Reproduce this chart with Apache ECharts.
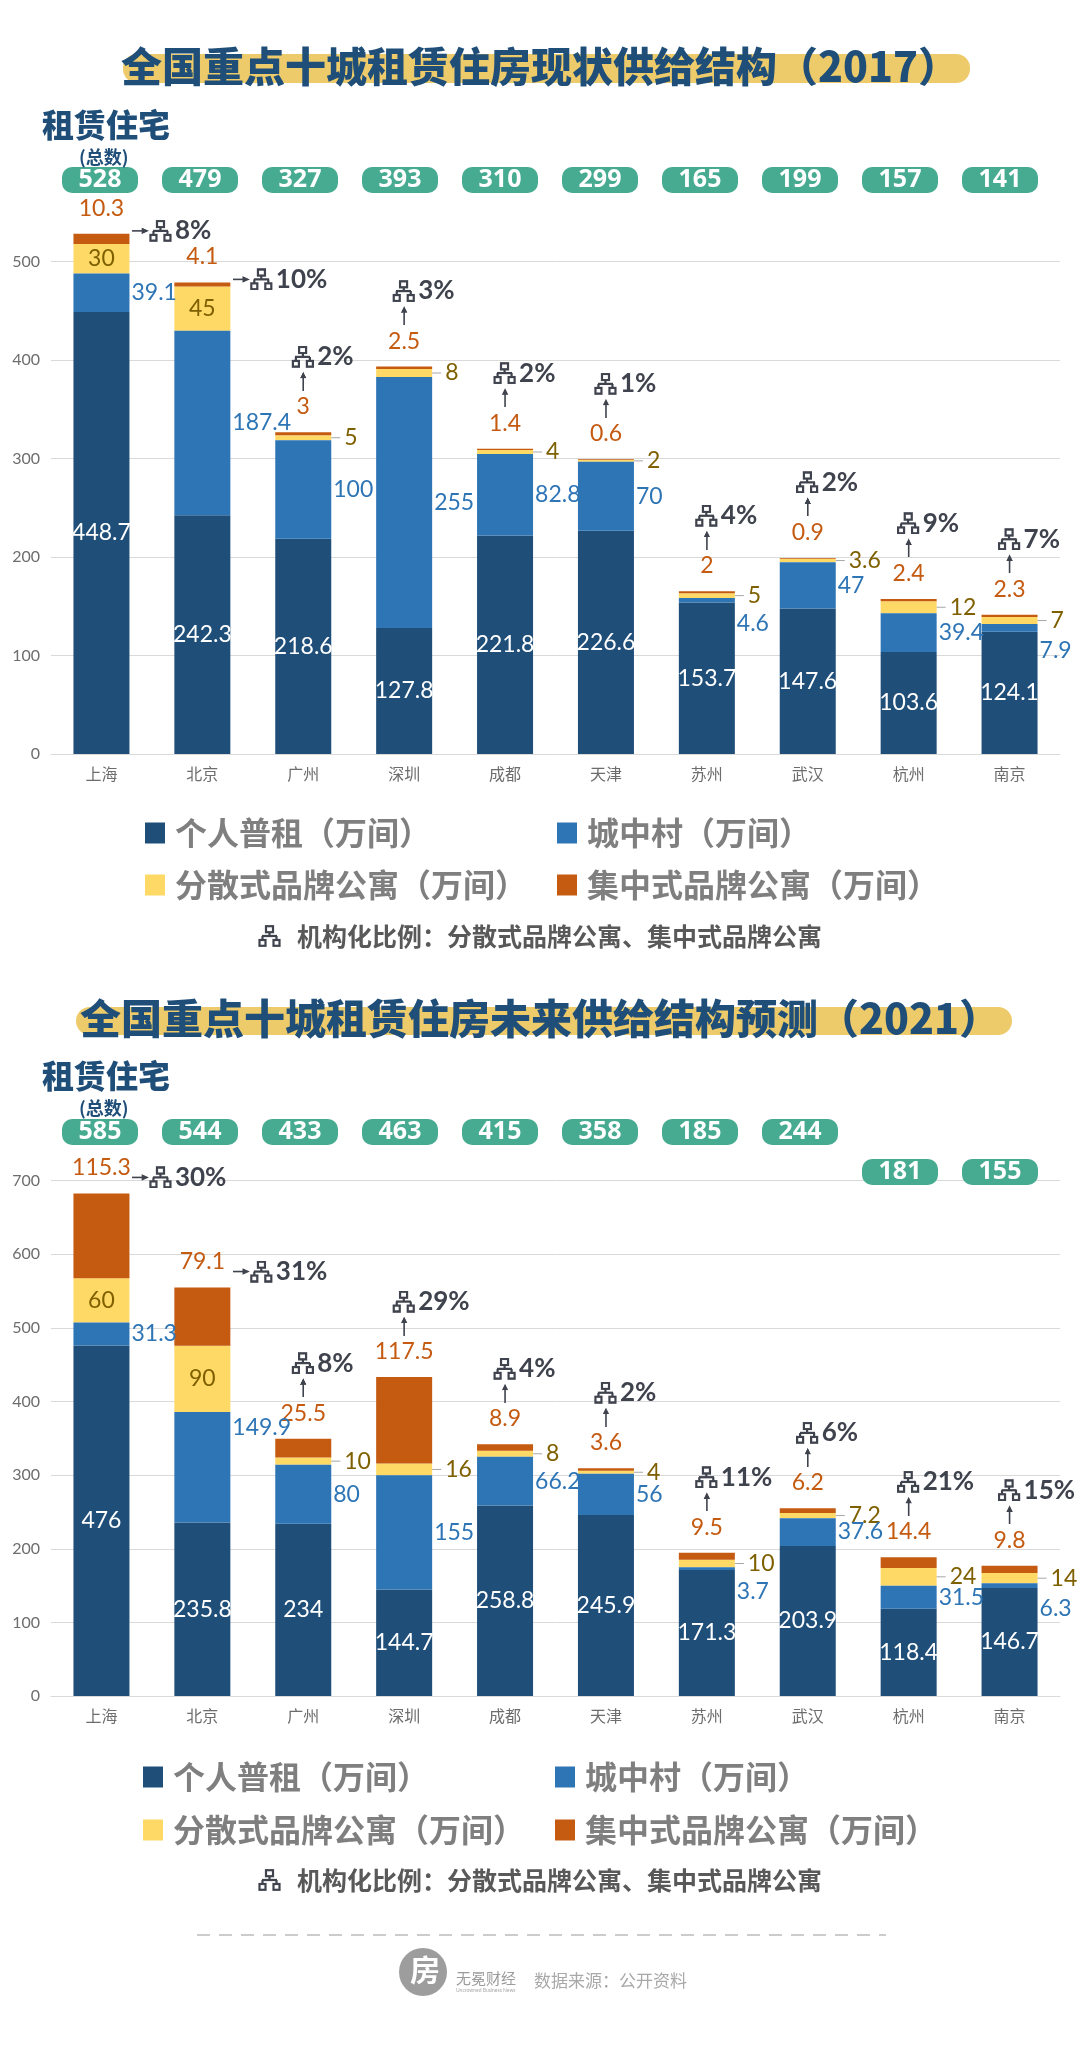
<!DOCTYPE html>
<html>
<head>
<meta charset="utf-8">
<title>全国重点十城租赁住房供给结构</title>
<script src="https://cdn.jsdelivr.net/npm/echarts@6/dist/echarts.min.js"></script>
<style>
    html, body { margin: 0; padding: 0; background: #fff; }
    #main { width: 1080px; height: 2056px; }
</style>
</head>
<body>
<div id="main"></div>
<script>
(function () {
    "use strict";

    // ---- datos ----
    var cities = ['上海', '北京', '广州', '深圳', '成都', '天津', '苏州', '武汉', '杭州', '南京'];
    var seriesNames = ['个人普租（万间）', '城中村（万间）', '分散式品牌公寓（万间）', '集中式品牌公寓（万间）'];

    // 2017 现状
    var geren2017 = [448.7, 242.3, 218.6, 127.8, 221.8, 226.6, 153.7, 147.6, 103.6, 124.1];
    var cun2017 = [39.1, 187.4, 100, 255, 82.8, 70, 4.6, 47, 39.4, 7.9];
    var fen2017 = [30, 45, 5, 8, 4, 2, 5, 3.6, 12, 7];
    var ji2017 = [10.3, 4.1, 3, 2.5, 1.4, 0.6, 2, 0.9, 2.4, 2.3];
    var total2017 = [528, 479, 327, 393, 310, 299, 165, 199, 157, 141];
    var ratio2017 = ['8%', '10%', '2%', '3%', '2%', '1%', '4%', '2%', '9%', '7%'];

    // 2021 预测
    var geren2021 = [476, 235.8, 234, 144.7, 258.8, 245.9, 171.3, 203.9, 118.4, 146.7];
    var cun2021 = [31.3, 149.9, 80, 155, 66.2, 56, 3.7, 37.6, 31.5, 6.3];
    var fen2021 = [60, 90, 10, 16, 8, 4, 10, 7.2, 24, 14];
    var ji2021 = [115.3, 79.1, 25.5, 117.5, 8.9, 3.6, 9.5, 6.2, 14.4, 9.8];
    var total2021 = [585, 544, 433, 463, 415, 358, 185, 244, 181, 155];
    var ratio2021 = ['30%', '31%', '8%', '29%', '4%', '2%', '11%', '6%', '21%', '15%'];

    // ejes
    var yMax2017 = 600, yMax2021 = 800, yStep = 100;

    var sideRatioCities = ['上海', '北京'];     // ratio a la derecha de la barra
    var loweredBadges2021 = ['杭州', '南京'];   // etiquetas de total desplazadas
    var raisedCunLabels2021 = ['北京'];         // etiqueta de 城中村 subida

    // ---- estilos ----
    var CJK = '"Noto Sans CJK SC", sans-serif';
    var NUM = 'Lato, "Noto Sans", sans-serif';
    var colors = ['#1f4e79', '#2e75b6', '#ffd966', '#c55a11'];
    var NAVY = '#1f4e79';
    var DARK = '#3f434d';

    function makeCanvas(w, h, draw) {
        var c = document.createElement('canvas');
        c.width = w * 2; c.height = h * 2;
        var g = c.getContext('2d');
        g.scale(2, 2);
        draw(g);
        return c;
    }
    // icono organigrama
    var orgIcon = makeCanvas(23, 22, function (g) {
        g.strokeStyle = DARK; g.lineWidth = 2.2;
        g.strokeRect(8, 1.2, 7, 6);
        g.beginPath();
        g.moveTo(11.5, 7); g.lineTo(11.5, 11);
        g.moveTo(4, 11); g.lineTo(19, 11);
        g.moveTo(4.5, 11); g.lineTo(4.5, 15);
        g.moveTo(18.5, 11); g.lineTo(18.5, 15);
        g.stroke();
        g.strokeRect(1.5, 15, 6, 5.8);
        g.strokeRect(15.5, 15, 6, 5.8);
    });
    var upArrow = makeCanvas(8, 19, function (g) {
        g.strokeStyle = DARK; g.fillStyle = DARK; g.lineWidth = 1.6;
        g.beginPath(); g.moveTo(4, 19); g.lineTo(4, 5); g.stroke();
        g.beginPath(); g.moveTo(0.8, 6.5); g.lineTo(4, 0); g.lineTo(7.2, 6.5); g.closePath(); g.fill();
    });
    var rightArrow = makeCanvas(15, 8, function (g) {
        g.strokeStyle = DARK; g.fillStyle = DARK; g.lineWidth = 1.6;
        g.beginPath(); g.moveTo(0, 4); g.lineTo(10, 4); g.stroke();
        g.beginPath(); g.moveTo(8.5, 0.8); g.lineTo(15, 4); g.lineTo(8.5, 7.2); g.closePath(); g.fill();
    });

    var numLabel = { fontFamily: NUM, fontSize: 23 };
    var hidden = { color: 'rgba(0,0,0,0)', opacity: 1 };

    function buildSeries(k, d) {
        var gMain = k * 2, gBadge = k * 2 + 1;
        var stack = 'total' + k;
        var tops = d.geren.map(function (v, i) { return v + d.cun[i] + d.fen[i] + d.ji[i]; });
        var base = { type: 'bar', stack: stack, barWidth: 56, xAxisIndex: gMain, yAxisIndex: gMain };
        var list = [];

        list.push(Object.assign({}, base, {
            name: seriesNames[0], itemStyle: { color: colors[0] },
            label: Object.assign({ show: true, position: 'inside', color: '#fff' }, numLabel),
            data: d.geren
        }));
        list.push(Object.assign({}, base, {
            name: seriesNames[1], itemStyle: { color: colors[1] }, z: 3,
            label: Object.assign({ show: true, position: 'right', distance: 2, color: '#2e75b6' }, numLabel),
            data: d.cun.map(function (v, i) {
                if (d.raised && d.raised.indexOf(cities[i]) >= 0) return { value: v, label: { offset: [0, -40] } };
                return v < 10 ? { value: v, label: { offset: [0, 23] } } : v;
            })
        }));
        list.push(Object.assign({}, base, {
            name: seriesNames[2], itemStyle: { color: colors[2] },
            label: {
                show: true, position: 'right', distance: 0,
                formatter: function (p) { return '{ln|}{v|' + p.value + '}'; },
                rich: {
                    ln: { width: 9, height: 1, backgroundColor: '#a6a6a6' },
                    v: Object.assign({ color: '#7f6000', padding: [0, 0, 0, 4] }, numLabel)
                }
            },
            data: d.fen.map(function (v) {
                return v >= 25 ? {
                    value: v,
                    label: Object.assign({ position: 'inside', color: '#7f6000', formatter: '{c}', rich: {} }, numLabel)
                } : v;
            })
        }));
        list.push(Object.assign({}, base, {
            name: seriesNames[3], itemStyle: { color: colors[3] },
            label: Object.assign({ show: true, position: 'top', distance: 14, color: '#c55a11' }, numLabel),
            data: d.ji
        }));

        // ratio de institucionalización
        var pctRich = {
            ic: { width: 23, height: 22, backgroundColor: { image: orgIcon } },
            ar: { width: 15, height: 8, backgroundColor: { image: rightArrow }, padding: [0, 2, 0, 0] },
            p: { fontFamily: NUM, fontSize: 26, fontWeight: 'bold', color: DARK, lineHeight: 26, padding: [0, 0, 0, 3] }
        };
        var sideLift = k === 0 ? -3 : -16;
        list.push({
            type: 'scatter', name: 'ratio' + k, xAxisIndex: gMain, yAxisIndex: gMain,
            symbolSize: 1, itemStyle: hidden, silent: true, z: 5,
            data: cities.map(function (c, i) {
                var side = sideRatioCities.indexOf(c) >= 0;
                return {
                    value: [i, tops[i]],
                    label: side ? {
                        show: true, position: 'right', distance: 30, offset: [0, sideLift],
                        formatter: '{ar|}{ic|}{p|' + d.ratio[i] + '}', rich: pctRich
                    } : {
                        show: true, position: 'top', distance: 62, align: 'left', offset: [-12, 0],
                        formatter: '{ic|}{p|' + d.ratio[i] + '}', rich: pctRich
                    }
                };
            })
        });
        list.push({
            type: 'scatter', name: 'arrow' + k, xAxisIndex: gMain, yAxisIndex: gMain,
            symbolSize: 1, itemStyle: hidden, silent: true, z: 5,
            data: cities.map(function (c, i) {
                return {
                    value: [i, tops[i]],
                    label: { show: sideRatioCities.indexOf(c) < 0 }
                };
            }),
            label: {
                position: 'top', distance: 41, formatter: '{a|}',
                rich: { a: { width: 8, height: 19, backgroundColor: { image: upArrow } } }
            }
        });

        // totales
        list.push({
            type: 'scatter', name: 'badge' + k, xAxisIndex: gBadge, yAxisIndex: gBadge,
            symbolSize: 1, itemStyle: hidden, silent: true,
            data: cities.map(function (c, i) {
                var item = { value: [i, 0.5] };
                if (d.lowered && d.lowered.indexOf(c) >= 0) item.label = { offset: [0, 40] };
                return item;
            }),
            label: {
                show: true, position: 'inside',
                formatter: function (p) { return String(d.total[p.dataIndex]); },
                width: 76, height: 26, lineHeight: 26, align: 'center', verticalAlign: 'middle',
                backgroundColor: '#47ab91', borderRadius: 10,
                color: '#fff', fontFamily: '"Open Sans", ' + NUM, fontSize: 25, fontWeight: 'bold'
            }
        });
        return list;
    }

    function mainX(grid) {
        return {
            type: 'category', gridIndex: grid, data: cities,
            axisLine: { lineStyle: { color: '#d9d9d9' } },
            axisTick: { show: false },
            axisLabel: { margin: 12, fontSize: 16, color: '#6d6d6d', fontFamily: CJK }
        };
    }
    function mainY(grid, max) {
        return {
            type: 'value', gridIndex: grid, min: 0, max: max, interval: yStep,
            axisLine: { show: false }, axisTick: { show: false },
            axisLabel: { margin: 11, fontSize: 16, color: '#6d6d6d', fontFamily: NUM, showMaxLabel: false },
            splitLine: { lineStyle: { color: '#d9d9d9' }, showMaxLine: false }
        };
    }
    function badgeX(grid) { return { type: 'category', gridIndex: grid, data: cities, show: false }; }
    function badgeY(grid) { return { type: 'value', gridIndex: grid, min: 0, max: 1, show: false }; }

    function legendAt(name, left, top) {
        return {
            data: [name], left: left, top: top, icon: 'rect', itemWidth: 20, itemHeight: 21,
            selectedMode: false,
            textStyle: { fontFamily: CJK, fontSize: 32, fontWeight: 'bold', color: '#7f7f7f', lineHeight: 32, padding: [0, 0, 0, 5] }
        };
    }

    var noteText = '{ic|}{t|机构化比例：分散式品牌公寓、集中式品牌公寓}';
    var noteStyle = {
        rich: {
            ic: { width: 23, height: 22, backgroundColor: { image: orgIcon } },
            t: { fontFamily: CJK, fontSize: 25, fontWeight: 'bold', color: '#595959', padding: [0, 0, 0, 16], lineHeight: 28 }
        }
    };
    function headTitles(title, yTitle, yHead, yNote) {
        return [
            { text: title, left: 'center', top: yTitle, textStyle: { fontFamily: CJK, fontSize: 41, fontWeight: 900, color: NAVY, lineHeight: 44 } },
            { text: '租赁住宅', left: 37, top: yHead, textStyle: { fontFamily: CJK, fontSize: 32, fontWeight: 900, color: NAVY, lineHeight: 34 } },
            { text: '(总数)', left: 74, top: yHead + 39, textStyle: { fontFamily: CJK, fontSize: 18, fontWeight: 'bold', color: NAVY, lineHeight: 20 } },
            { text: noteText, left: 'center', top: yNote, textStyle: noteStyle }
        ];
    }

    var series = buildSeries(0, { geren: geren2017, cun: cun2017, fen: fen2017, ji: ji2017, total: total2017, ratio: ratio2017 })
        .concat(buildSeries(1, {
            geren: geren2021, cun: cun2021, fen: fen2021, ji: ji2021, total: total2021, ratio: ratio2021,
            lowered: loweredBadges2021, raised: raisedCunLabels2021
        }));

    var option = {
        backgroundColor: '#ffffff',
        animation: false,
        title: headTitles('全国重点十城租赁住房现状供给结构（2017）', 39, 103, 917)
            .concat(headTitles('全国重点十城租赁住房未来供给结构预测（2021）', 991, 1054, 1861)),
        legend: [
            legendAt(seriesNames[0], 140, 812), legendAt(seriesNames[1], 552, 812),
            legendAt(seriesNames[2], 140, 864), legendAt(seriesNames[3], 552, 864),
            legendAt(seriesNames[0], 138, 1756), legendAt(seriesNames[1], 550, 1756),
            legendAt(seriesNames[2], 138, 1809), legendAt(seriesNames[3], 550, 1809)
        ],
        grid: [
            { left: 51, right: 20, top: 163, height: 591 },
            { left: 50, right: 30, top: 167, height: 26 },
            { left: 51, right: 20, top: 1107, height: 589 },
            { left: 50, right: 30, top: 1119, height: 26 }
        ],
        xAxis: [mainX(0), badgeX(1), mainX(2), badgeX(3)],
        yAxis: [mainY(0, yMax2017), badgeY(1), mainY(2, yMax2021), badgeY(3)],
        series: series,
        graphic: [
            { type: 'rect', z: 0, shape: { x: 123, y: 54, width: 847, height: 29, r: 14 }, style: { fill: '#edca6a' } },
            { type: 'rect', z: 0, shape: { x: 76, y: 1007, width: 936, height: 28, r: 14 }, style: { fill: '#edca6a' } },
            { type: 'line', shape: { x1: 197, y1: 1935, x2: 886, y2: 1935 }, style: { stroke: '#cccccc', lineWidth: 2, lineDash: [13, 9] } },
            { type: 'circle', shape: { cx: 423, cy: 1972, r: 24 }, style: { fill: '#9d9d9d' } },
            { type: 'text', x: 425, y: 1970, style: { text: '房', fill: '#fff', font: 'bold 30px ' + CJK, align: 'center', verticalAlign: 'middle' } },
            { type: 'text', x: 456, y: 1978, style: { text: '无冕财经', fill: '#9b9b9b', font: '15px ' + CJK, verticalAlign: 'middle' } },
            { type: 'text', x: 456, y: 1990, style: { text: 'Uncrowned Business News', fill: '#aaaaaa', font: '5px ' + NUM, verticalAlign: 'middle' } },
            { type: 'text', x: 534, y: 1981, style: { text: '数据来源：公开资料', fill: '#a8a8a8', font: '17px ' + CJK, verticalAlign: 'middle' } }
        ]
    };

    var chart = echarts.init(document.getElementById('main'), null, { renderer: 'canvas' });
    chart.setOption(option);
}());
</script>
</body>
</html>
